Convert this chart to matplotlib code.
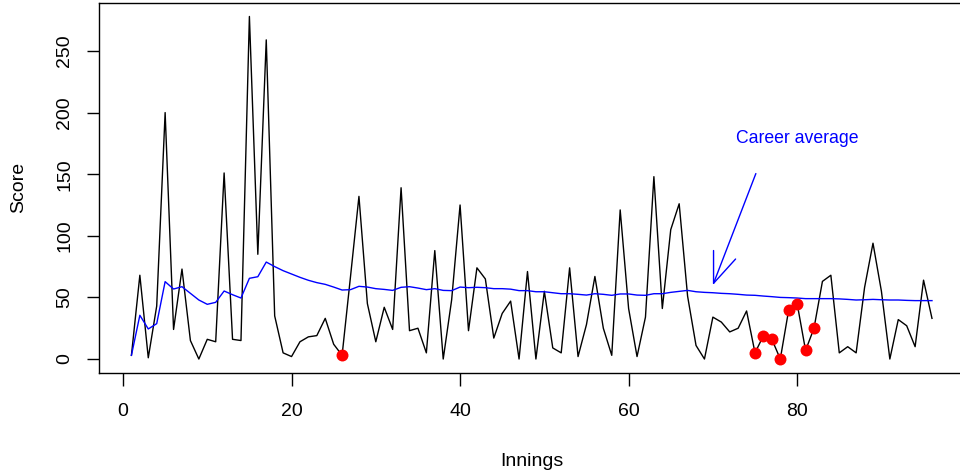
import matplotlib
matplotlib.use("Agg")
import matplotlib.pyplot as plt

plt.rcParams['font.family'] = ['Liberation Sans', 'DejaVu Sans']

# runs scored in each innings
scores = [3, 68, 1, 43, 200, 24, 73, 15, 0, 16,
          14, 151, 16, 15, 278, 85, 259, 35, 5, 2,
          14, 18, 19, 33, 12, 3, 67, 132, 45, 14,
          42, 24, 139, 23, 25, 5, 88, 0, 48, 125,
          23, 74, 65, 17, 37, 47, 0, 71, 0, 55,
          9, 5, 74, 2, 28, 67, 25, 3, 121, 41,
          2, 34, 148, 41, 105, 126, 51, 11, 0, 34,
          30, 22, 25, 39, 5, 19, 16, 0, 40, 45,
          7, 25, 63, 68, 5, 10, 5, 58, 94, 55,
          0, 32, 27, 10, 64, 33]

# career batting average after each innings
career_avg = [3, 35.5, 24.4, 28.7, 62.8, 56.8, 58.7, 53.3, 47.9, 44.4,
              46, 55.2, 52.2, 49.5, 65.5, 66.8, 78.7, 75, 71.7, 69,
              66.3, 63.9, 62, 60.6, 58.4, 56, 56.3, 59, 58.4, 57.1,
              56.5, 55.7, 58.2, 58.7, 57.6, 56.3, 57.1, 55.7, 55.5, 58.4,
              57.9, 58.2, 57.9, 57.1, 57.1, 56.7, 55.5, 55.5, 54.6, 54.6,
              53.8, 53, 53, 52.5, 51.9, 53, 52.5, 51.7, 52.8, 52.8,
              51.9, 51.7, 53, 53, 54.1, 54.9, 55.7, 54.6, 54.1, 53.8,
              53.3, 53, 52.5, 51.9, 51.7, 51.1, 50.6, 50, 49.8, 49.5,
              49, 49, 49, 49, 48.8, 48.4, 47.9, 48.1, 48.4, 48.1,
              47.9, 47.9, 47.6, 47.4, 47.4, 47.4]

# innings highlighted in red
highlight = [26, 75, 76, 77, 78, 79, 80, 81, 82]

innings = list(range(1, len(scores) + 1))
hl_scores = [scores[i - 1] for i in highlight]

fig = plt.figure(figsize=(9.6, 4.74), dpi=100)
ax = fig.add_axes([99.4 / 960, 1 - 372.7 / 474, 864.6 / 960, 369.9 / 474])

ax.plot(innings, scores, color='black', lw=1.0)
ax.plot(innings, career_avg, color='#0000ff', lw=1.0)
ax.plot(highlight, hl_scores, 'o', color='#ff0000', ms=8.6, mec='none')

ax.text(80, 175.3, 'Career average', color='#0000ff', fontsize=12.7,
        ha='center', va='baseline')
ax.annotate('', xy=(70, 60), xytext=(75.1, 150.5),
            arrowprops=dict(arrowstyle='->,head_length=22,head_width=8.5',
                            color='#0000ff', lw=1.0, shrinkA=0, shrinkB=0,
                            mutation_scale=1))

ax.set_xlim(-2.8, 99.8)
ax.set_ylim(-11.1, 289.1)
ax.set_xticks([0, 20, 40, 60, 80])
ax.set_yticks([0, 50, 100, 150, 200, 250])
ax.tick_params(direction='out', length=9, width=1, labelsize=14, colors='black')
ax.tick_params(axis='x', pad=13)
ax.tick_params(axis='y', pad=10)
for lab in ax.get_yticklabels():
    lab.set_rotation(90)
    lab.set_va('center')

for s in ax.spines.values():
    s.set_linewidth(1.0)
    s.set_color('black')

ax.set_xlabel('Innings', fontsize=14)
ax.set_ylabel('Score', fontsize=14)
ax.xaxis.set_label_coords(0.5, -0.217)
ax.yaxis.set_label_coords(-0.084, 0.5)

fig.savefig('out.png', dpi=100)
